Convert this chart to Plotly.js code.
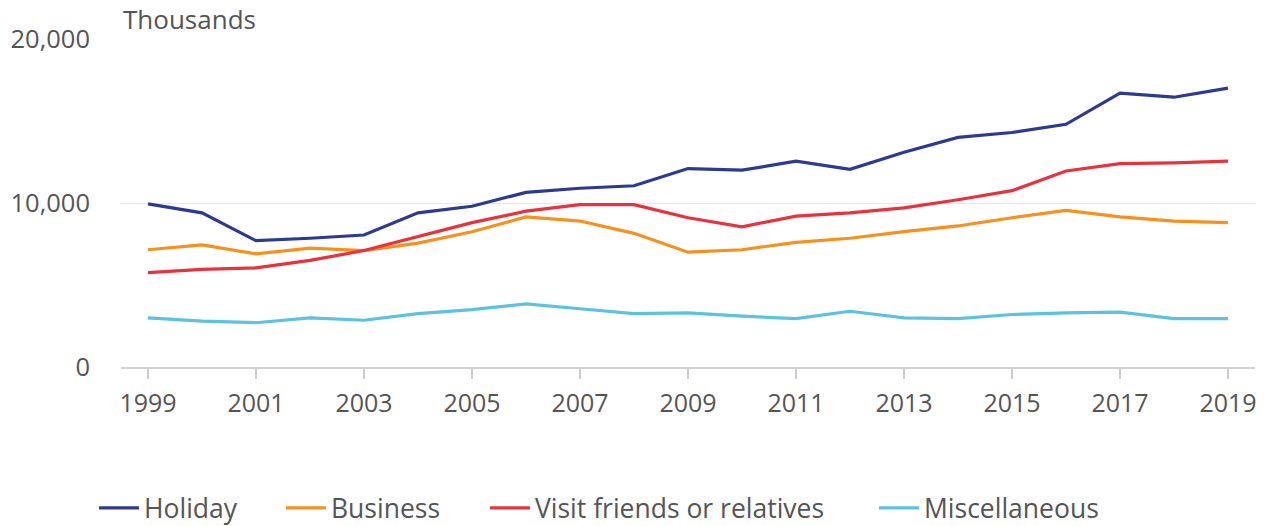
<!DOCTYPE html>
<html>
<head>
<meta charset="utf-8">
<script src="https://cdn.plot.ly/plotly-3.0.1.min.js"></script>
<style>html,body{margin:0;padding:0;background:#fff;}#chart{width:1265px;height:526px;}</style>
</head>
<body>
<div id="chart"></div>
<script>
const years = [1999,2000,2001,2002,2003,2004,2005,2006,2007,2008,2009,2010,2011,2012,2013,2014,2015,2016,2017,2018,2019];
const holiday = [9950,9400,7700,7850,8050,9400,9800,10650,10900,11050,12100,12000,12550,12050,13100,14000,14300,14800,16700,16450,17000];
const business = [7150,7450,6900,7250,7100,7550,8250,9150,8900,8150,7000,7150,7600,7850,8250,8600,9100,9550,9150,8900,8800];
const visitFriends = [5750,5950,6050,6500,7100,7950,8800,9500,9900,9900,9100,8550,9200,9400,9700,10200,10750,11950,12400,12450,12550];
const miscellaneous = [3000,2800,2700,3000,2850,3250,3500,3850,3550,3250,3300,3100,2950,3400,3000,2950,3200,3300,3350,2950,2950];
const seriesNames = ["Holiday","Business","Visit friends or relatives","Miscellaneous"];
const colors = ["#2d3a8f","#f7911e","#e8333f","#5bc3df"];
const yTickVals = [0,10000,20000];
const yTickText = ["0","10,000","20,000"];
const xTickVals = [1999,2001,2003,2005,2007,2009,2011,2013,2015,2017,2019];

const legendIds = ['legend','legend2','legend3','legend4'];
const legendLeftPx = [94,281,485,874];

const data = [holiday,business,visitFriends,miscellaneous].map((v,i)=>({
  type:'scatter', mode:'lines', x:years, y:v, name:seriesNames[i],
  line:{color:colors[i], width:3.2}, legend:legendIds[i]
}));
const fontFam = '"Open Sans", sans-serif';
const layout = {
  width:1265, height:526,
  margin:{l:121, r:10, t:39, b:159, autoexpand:false},
  paper_bgcolor:'#fff', plot_bgcolor:'#fff',
  font:{family:fontFam, size:25, color:'#555'},
  showlegend:true,
  xaxis:{range:[1998.5,2019.5], tickvals:xTickVals, ticks:'outside', ticklen:10, tickwidth:1.5,
         tickcolor:'#ccc', showline:true, linecolor:'#d0d0d0', linewidth:2, showgrid:false,
         zeroline:false, fixedrange:true, ticklabelstandoff:3, tickfont:{size:25, color:'#555'}},
  yaxis:{range:[0,20000], tickvals:yTickVals, ticktext:yTickText, showgrid:true,
         gridcolor:'#e8e8e8', gridwidth:1, zeroline:false, showline:false, ticks:'',
         ticklabelstandoff:30, fixedrange:true, tickfont:{size:25.5, color:'#555'}},
  annotations:[{text:'Thousands', xref:'paper', yref:'paper', x:0, y:1, xanchor:'left',
                yanchor:'bottom', yshift:0, showarrow:false, font:{size:26, color:'#555'}}]
};
legendIds.forEach((id,i)=>{
  layout[id] = {orientation:'h', xref:'container', yref:'container', x:legendLeftPx[i]/1265,
    xanchor:'left', y:0.034, yanchor:'middle', itemwidth:40,
    font:{family:fontFam, size:26.5, color:'#555'}, bgcolor:'rgba(0,0,0,0)'};
});
Plotly.newPlot('chart', data, layout, {displayModeBar:false, staticPlot:true});
</script>
</body>
</html>
